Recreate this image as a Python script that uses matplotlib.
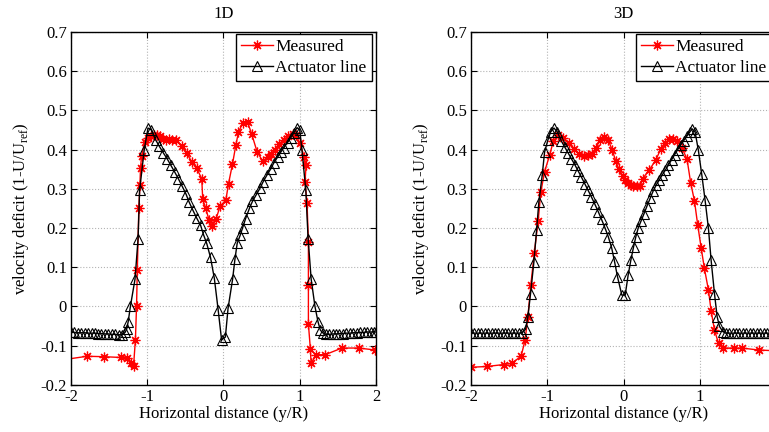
import matplotlib
matplotlib.use("Agg")
from matplotlib import pyplot as plt

plt.rcParams["font.family"] = ["Liberation Serif", "DejaVu Serif"]
plt.rcParams["mathtext.fontset"] = "custom"
plt.rcParams["mathtext.rm"] = "Liberation Serif"
plt.rcParams["axes.unicode_minus"] = False

# ---- 1D : measured
meas_1d_x = [-2.25, -1.79, -1.57, -1.35, -1.26, -1.21, -1.18, -1.155, -1.14, -1.13,
             -1.11, -1.096, -1.088, -1.075, -1.031, -0.987, -0.95, -0.912, -0.87, -0.833,
             -0.79, -0.754, -0.715, -0.68, -0.623, -0.548, -0.482, -0.417, -0.351, -0.285,
             -0.272, -0.232, -0.189, -0.145, -0.096, -0.044, 0.031, 0.066, 0.118, 0.162,
             0.197, 0.254, 0.316, 0.37, 0.44, 0.513, 0.579, 0.623, 0.675, 0.732,
             0.789, 0.842, 0.908, 0.952, 1.0, 1.061, 1.083, 1.07, 1.096, 1.114,
             1.114, 1.114, 1.14, 1.149, 1.215, 1.333, 1.553, 1.772, 1.991]
meas_1d_y = [-0.140, -0.127, -0.128, -0.130, -0.132, -0.145, -0.153, -0.085, 0.001, 0.093,
             0.250, 0.309, 0.352, 0.383, 0.419, 0.430, 0.434, 0.436, 0.436, 0.434,
             0.428, 0.425, 0.426, 0.425, 0.424, 0.408, 0.391, 0.369, 0.352, 0.326,
             0.273, 0.250, 0.220, 0.205, 0.224, 0.256, 0.271, 0.313, 0.363, 0.411,
             0.445, 0.468, 0.470, 0.440, 0.395, 0.371, 0.380, 0.390, 0.400, 0.415,
             0.425, 0.434, 0.441, 0.436, 0.417, 0.381, 0.360, 0.318, 0.264, 0.165,
             0.055, -0.045, -0.109, -0.145, -0.123, -0.123, -0.106, -0.106, -0.111]

# ---- 1D : actuator line
alm_1d_x = [-2.00, -1.96, -1.91, -1.87, -1.82, -1.78, -1.73, -1.69, -1.64, -1.60,
            -1.55, -1.51, -1.46, -1.42, -1.37, -1.33, -1.29, -1.27, -1.25, -1.22,
            -1.16, -1.12, -1.10, -1.04, -0.99, -0.95, -0.89, -0.84, -0.79, -0.74,
            -0.69, -0.64, -0.59, -0.54, -0.49, -0.45, -0.40, -0.35, -0.30, -0.26,
            -0.22, -0.17, -0.12, -0.07, -0.025, 0.025, 0.06, 0.12, 0.15, 0.18,
            0.22, 0.25, 0.29, 0.34, 0.38, 0.43, 0.48, 0.52, 0.57, 0.62,
            0.66, 0.71, 0.75, 0.79, 0.84, 0.88, 0.92, 0.965, 1.00, 1.03,
            1.08, 1.11, 1.15, 1.20, 1.24, 1.27, 1.30, 1.34, 1.39, 1.43,
            1.48, 1.52, 1.57, 1.61, 1.66, 1.70, 1.75, 1.79, 1.84, 1.88,
            1.93, 1.97, 2.00]
alm_1d_y = [-0.066, -0.066, -0.067, -0.067, -0.067, -0.068, -0.068, -0.068, -0.069, -0.069,
            -0.070, -0.070, -0.071, -0.071, -0.072, -0.072, -0.066, -0.058, -0.039, 0.001,
            0.070, 0.173, 0.296, 0.398, 0.455, 0.451, 0.425, 0.408, 0.392, 0.377,
            0.360, 0.343, 0.325, 0.306, 0.286, 0.266, 0.245, 0.225, 0.207, 0.182,
            0.161, 0.125, 0.072, -0.008, -0.085, -0.078, -0.005, 0.070, 0.120, 0.161,
            0.182, 0.200, 0.224, 0.250, 0.268, 0.285, 0.302, 0.318, 0.335, 0.351,
            0.366, 0.381, 0.393, 0.405, 0.418, 0.430, 0.442, 0.456, 0.450, 0.398,
            0.296, 0.173, 0.070, 0.000, -0.039, -0.060, -0.067, -0.071, -0.071, -0.070,
            -0.070, -0.069, -0.069, -0.068, -0.068, -0.067, -0.067, -0.066, -0.066, -0.065,
            -0.065, -0.065, -0.065]

# ---- 3D : measured
meas_3d_x = [-2.00, -1.79, -1.57, -1.46, -1.342, -1.29, -1.254, -1.215, -1.17, -1.12,
             -1.085, -1.035, -0.97, -0.92, -0.857, -0.79, -0.72, -0.65, -0.58, -0.52,
             -0.46, -0.415, -0.364, -0.31, -0.255, -0.20, -0.15, -0.10, -0.06, -0.013,
             0.018, 0.06, 0.10, 0.13, 0.175, 0.22, 0.25, 0.338, 0.425, 0.487,
             0.54, 0.60, 0.65, 0.70, 0.765, 0.833, 0.882, 0.93, 0.974, 1.018,
             1.061, 1.114, 1.149, 1.193, 1.246, 1.303, 1.447, 1.553, 1.772, 2.0]
meas_3d_y = [-0.155, -0.153, -0.148, -0.145, -0.126, -0.085, -0.026, 0.056, 0.137, 0.217,
             0.291, 0.344, 0.385, 0.422, 0.436, 0.430, 0.417, 0.401, 0.388, 0.383,
             0.385, 0.390, 0.403, 0.424, 0.433, 0.424, 0.400, 0.370, 0.350, 0.333,
             0.322, 0.314, 0.309, 0.307, 0.306, 0.307, 0.326, 0.348, 0.374, 0.401,
             0.417, 0.426, 0.428, 0.421, 0.405, 0.376, 0.314, 0.270, 0.207, 0.150,
             0.097, 0.042, -0.011, -0.060, -0.094, -0.106, -0.106, -0.106, -0.111, -0.113]

# ---- 3D : actuator line
alm_3d_x = [-2.00, -1.96, -1.91, -1.87, -1.82, -1.78, -1.73, -1.69, -1.64, -1.60,
            -1.55, -1.51, -1.46, -1.42, -1.37, -1.33, -1.285, -1.254, -1.219, -1.175,
            -1.140, -1.110, -1.066, -1.035, -0.991, -0.956, -0.912, -0.868, -0.816, -0.772,
            -0.728, -0.684, -0.640, -0.596, -0.552, -0.508, -0.464, -0.420, -0.376, -0.332,
            -0.288, -0.244, -0.200, -0.156, -0.120, -0.079, -0.022, 0.022, 0.061, 0.096,
            0.132, 0.162, 0.193, 0.23, 0.27, 0.31, 0.35, 0.39, 0.43, 0.47,
            0.51, 0.55, 0.59, 0.63, 0.67, 0.71, 0.75, 0.79, 0.83, 0.87,
            0.90, 0.939, 0.982, 1.026, 1.070, 1.114, 1.149, 1.193, 1.228, 1.259,
            1.303, 1.34, 1.39, 1.43, 1.48, 1.52, 1.57, 1.61, 1.66, 1.70,
            1.75, 1.79, 1.84, 1.88, 1.93, 1.97, 2.00]
alm_3d_y = [-0.068, -0.068, -0.068, -0.068, -0.068, -0.068, -0.068, -0.068, -0.068, -0.068,
            -0.068, -0.068, -0.068, -0.068, -0.068, -0.067, -0.058, -0.026, 0.033, 0.114,
            0.195, 0.267, 0.335, 0.394, 0.425, 0.445, 0.455, 0.445, 0.422, 0.407,
            0.392, 0.377, 0.362, 0.346, 0.330, 0.313, 0.296, 0.279, 0.261, 0.242,
            0.222, 0.201, 0.178, 0.150, 0.117, 0.076, 0.029, 0.029, 0.080, 0.118,
            0.152, 0.178, 0.200, 0.218, 0.237, 0.257, 0.276, 0.295, 0.310, 0.323,
            0.336, 0.348, 0.361, 0.374, 0.387, 0.400, 0.412, 0.423, 0.434, 0.445,
            0.453, 0.445, 0.398, 0.337, 0.271, 0.199, 0.118, 0.033, -0.026, -0.051,
            -0.064, -0.068, -0.068, -0.068, -0.068, -0.068, -0.068, -0.068, -0.068, -0.068,
            -0.068, -0.068, -0.068, -0.068, -0.068, -0.068, -0.068]

panels = [("1D", meas_1d_x, meas_1d_y, alm_1d_x, alm_1d_y),
          ("3D", meas_3d_x, meas_3d_y, alm_3d_x, alm_3d_y)]

x_ticks = [-2, -1, 0, 1, 2]
x_tick_labels = ["-2", "-1", "0", "1", "2"]
y_ticks = [-0.2, -0.1, 0, 0.1, 0.2, 0.3, 0.4, 0.5, 0.6, 0.7]
y_tick_labels = ["-0.2", "-0.1", "0", "0.1", "0.2", "0.3", "0.4", "0.5", "0.6", "0.7"]

fig = plt.figure(figsize=(7.69, 4.32), dpi=100)
lefts = [0.0923, 0.6125]

for i, (left, (title, mx, my, ax_x, ax_y)) in enumerate(zip(lefts, panels)):
    ax = fig.add_axes([left, 0.109, 0.3966, 0.817])
    ax.plot(mx, my, color="red", lw=1, marker=(8, 2, 0), ms=7, mec="red", mew=0.9,
            label="Measured")
    ax.plot(ax_x, ax_y, color="black", lw=1, marker="^", ms=7, mfc="none", mec="black",
            mew=0.8, label="Actuator line")

    ax.set_xlim(-2, 2)
    ax.set_ylim(-0.2, 0.7)
    ax.set_xticks(x_ticks)
    # right panel runs past the figure edge, its last label falls outside
    labels = x_tick_labels if i == 0 else x_tick_labels[:-1] + [""]
    ax.set_xticklabels(labels)
    ax.set_yticks(y_ticks)
    ax.set_yticklabels(y_tick_labels)
    ax.tick_params(direction="in", top=True, right=True, length=4, labelsize=12, pad=3)
    ax.grid(True, linestyle=":", color="#b4b4b4", linewidth=0.8)
    for sp in ax.spines.values():
        sp.set_linewidth(1.0)

    ax.set_title(title, fontsize=12, pad=10)
    ax.set_xlabel("Horizontal distance (y/R)", fontsize=12, labelpad=1)
    ax.set_ylabel(r"velocity deficit (1-U/U$_{\mathrm{ref}}$)", fontsize=12, labelpad=7)

    leg = ax.legend(loc="upper right", bbox_to_anchor=(0.986, 0.995), borderaxespad=0,
                    fancybox=False, edgecolor="black", framealpha=1, fontsize=12.5,
                    handlelength=1.8, handletextpad=0.15, borderpad=0.3,
                    labelspacing=0.25, numpoints=1)
    leg.get_frame().set_linewidth(1.0)

fig.savefig("out.png", dpi=100)
